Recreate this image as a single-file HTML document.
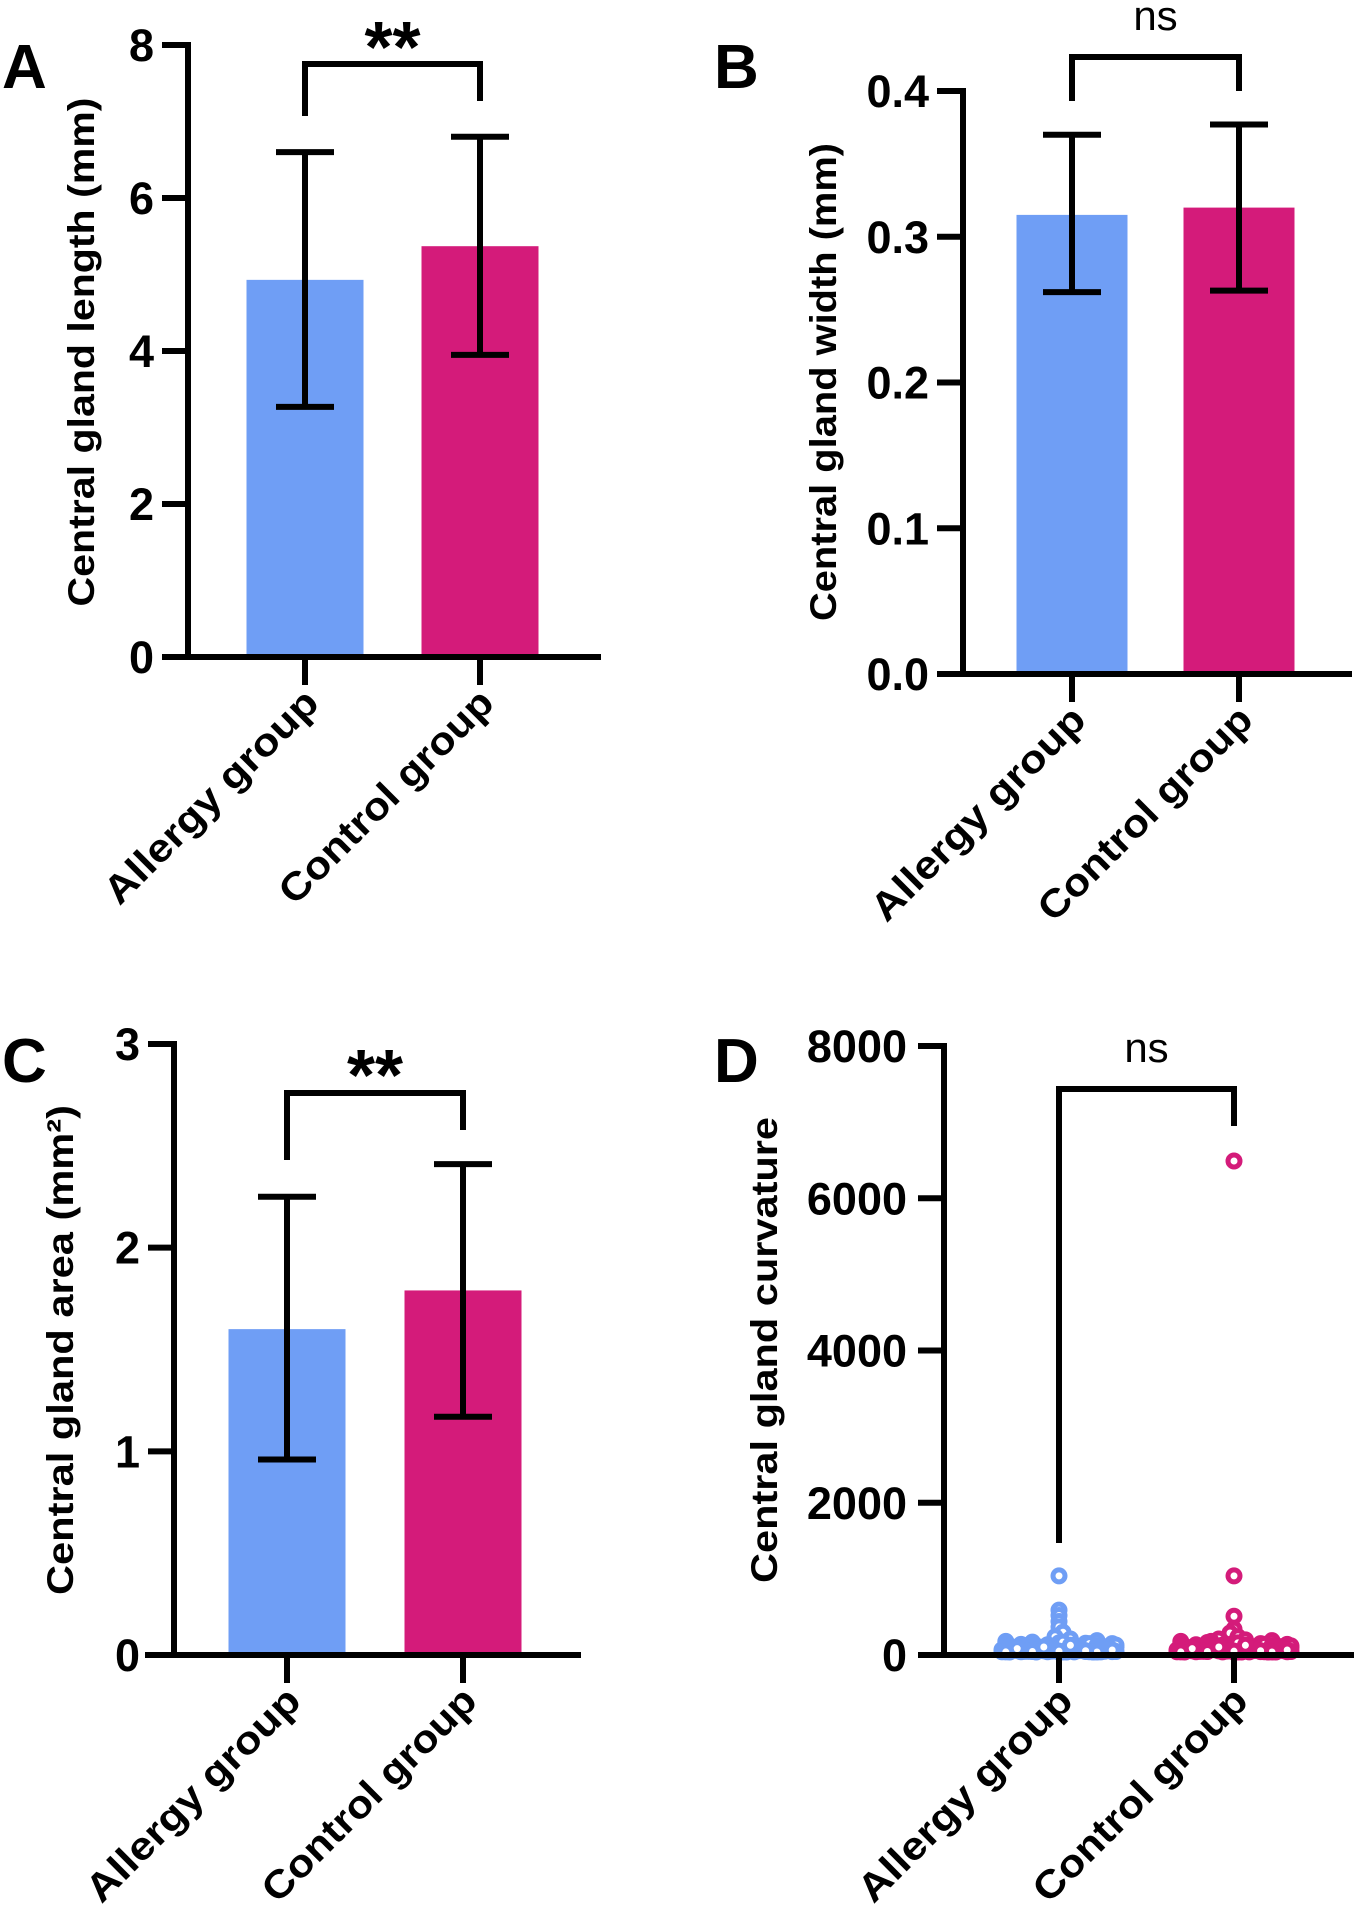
<!DOCTYPE html>
<html><head><meta charset="utf-8"><style>
html,body{margin:0;padding:0;background:#fff;}
svg{display:block;}
text{font-family:"Liberation Sans",Arial,sans-serif;}
</style></head><body>
<svg id="fig" width="1355" height="1915" viewBox="0 0 1355 1915" xmlns="http://www.w3.org/2000/svg"></svg>
<script>
const categories = ["Allergy group", "Control group"];
const barColors = ["#6f9ef5", "#d41b7a"];
// Panel A
const aMeans = [4.93, 5.37];
const aLow = [3.27, 3.95];
const aHigh = [6.6, 6.8];
const aTicks = ["0", "2", "4", "6", "8"];
// Panel B
const bMeans = [0.315, 0.32];
const bLow = [0.262, 0.263];
const bHigh = [0.37, 0.377];
const bTicks = ["0.0", "0.1", "0.2", "0.3", "0.4"];
// Panel C
const cMeans = [1.6, 1.79];
const cLow = [0.96, 1.17];
const cHigh = [2.25, 2.41];
const cTicks = ["0", "1", "2", "3"];
// Panel D
const dTicks = ["0", "2000", "4000", "6000", "8000"];
const dAllergy = [1000, 550, 480, 400, 330, 260, 200, 170, 150, 140, 130, 120, 115, 110, 100, 95, 90, 85, 80, 75, 70, 65, 60, 55, 50, 45, 42, 40, 38, 35, 32, 30, 28, 25, 22, 20, 18, 16, 15, 12, 10, 9, 8, 6, 5, 4, 3, 2, 1, 0, 0, 130, 110, 90, 70, 50, 30, 10, 60, 40, 20, 0, 5, 15, 25, 35, 45, 55, 65, 75, 85, 95, 105, 0, 10, 20, 30, 40, 50, 60, 70, 80, 0, 3, 6, 9, 12, 18, 24, 36, 48, 0, 2, 4, 8, 14, 22, 33, 44, 66, 88, 0, 1, 7, 11, 17, 27];
const dControl = [6450, 1000, 470, 300, 250, 200, 170, 160, 150, 140, 125, 120, 110, 100, 95, 90, 85, 80, 75, 70, 65, 60, 55, 50, 45, 42, 40, 38, 35, 32, 30, 28, 25, 22, 20, 18, 16, 15, 12, 10, 9, 8, 6, 5, 4, 3, 2, 1, 0, 0, 140, 120, 100, 80, 60, 40, 20, 70, 50, 30, 10, 0, 5, 15, 25, 35, 45, 55, 65, 75, 85, 95, 105, 0, 10, 20, 30, 40, 50, 60, 70, 80, 0, 3, 6, 9, 12, 18, 24, 36, 48, 0, 2, 4, 8, 14, 22, 33, 44, 66, 88, 0, 1, 7, 11, 17, 27];

const NS = "http://www.w3.org/2000/svg";
const svg = document.getElementById("fig");
function mk(tag, attrs, parent) {
  const e = document.createElementNS(NS, tag);
  for (const k in attrs) e.setAttribute(k, attrs[k]);
  (parent || svg).appendChild(e);
  return e;
}
function line(g, x1, y1, x2, y2, name) {
  const l = mk("line", {x1, y1, x2, y2, stroke: "#000", "stroke-width": 6, "stroke-linecap": "butt"}, g);
  
  
  return l;
}
function txt(g, x, y, s, attrs, name) {
  const t = mk("text", Object.assign({x, y}, attrs), g);
  t.textContent = s;
  
  
  return t;
}

function axes(p, g, ticks, tickVals, yScale) {
  line(g, p.ax, p.yTop - 3, p.ax, p.y0 + 3, "y-axis-line");
  line(g, p.xl, p.y0, p.xr, p.y0, "x-axis-line");
  ticks.forEach((lab, i) => {
    const y = yScale(tickVals[i]);
    line(g, p.ax - 26, y, p.ax, y, "y-tick");
    txt(g, p.ax - p.labGap, y + 16, lab, {"text-anchor": "end", "font-size": 45, "font-weight": "bold"}, "y-tick-label");
  });
  p.cx.forEach((cx, i) => {
    line(g, cx, p.y0, cx, p.y0 + 28, "x-tick");
    txt(g, 0, 0, categories[i], {"text-anchor": "end", "font-size": 39, "font-weight": "bold",
      transform: `translate(${cx + 16},${p.y0 + 48}) rotate(-45)`, textLength: 285, lengthAdjust: "spacingAndGlyphs"}, "x-category-label");
  });
  txt(g, 0, 0, p.title, {"text-anchor": "middle", "font-size": 37, "font-weight": "bold",
    transform: `translate(${p.titleX},${p.titleY}) rotate(-90)`, textLength: p.titleLen, lengthAdjust: "spacingAndGlyphs"}, "y-axis-title");
  txt(g, p.letterX, p.letterY, p.letter, {"font-size": 62, "font-weight": "bold"}, "panel-letter");
}
function bracket(g, p) {
  const b = p.br;
  const path = mk("path", {d: `M${p.cx[0]},${b.ly} V${b.y} H${p.cx[1]} V${b.ry}`, fill: "none", stroke: "#000", "stroke-width": 6}, g);
  
  
  const mid = (p.cx[0] + p.cx[1]) / 2;
  if (b.label === "**") txt(g, mid, b.ty, "**", {"text-anchor": "middle", "font-size": 72, "font-weight": "bold"}, "significance-label");
  else txt(g, mid, b.ty, "ns", {"text-anchor": "middle", "font-size": 42}, "significance-label");
}
function barPanel(p, means, low, high, ticks, max) {
  const g = mk("g", {});
  
  
  const yScale = v => p.y0 - (v / max) * (p.y0 - p.yTop);
  const tickVals = ticks.map(Number);
  means.forEach((m, i) => {
    const r = mk("rect", {x: p.cx[i] - p.bw / 2, y: yScale(m), width: p.bw, height: p.y0 - yScale(m), fill: barColors[i]}, g);
    
    
  });
  means.forEach((m, i) => {
    const cx = p.cx[i];
    line(g, cx, yScale(low[i]), cx, yScale(high[i]), "error-bar");
    line(g, cx - 29, yScale(low[i]), cx + 29, yScale(low[i]), "error-cap-low");
    line(g, cx - 29, yScale(high[i]), cx + 29, yScale(high[i]), "error-cap-high");
  });
  axes(p, g, ticks, tickVals, yScale);
  bracket(g, p);
}

barPanel({name: "panel-a", ax: 188, yTop: 45, y0: 657, xl: 163, xr: 601, cx: [305, 480], bw: 117, labGap: 34,
  title: "Central gland length (mm)", titleX: 94, titleY: 352, titleLen: 509, letter: "A", letterX: 2, letterY: 88,
  br: {y: 64, ly: 116, ry: 101, label: "**", ty: 72}}, aMeans, aLow, aHigh, aTicks, 8);

barPanel({name: "panel-b", ax: 963, yTop: 91, y0: 674, xl: 937, xr: 1352, cx: [1072, 1239], bw: 111, labGap: 34,
  title: "Central gland width (mm)", titleX: 836, titleY: 382, titleLen: 478, letter: "B", letterX: 714, letterY: 88,
  br: {y: 57, ly: 101, ry: 91, label: "ns", ty: 30}}, bMeans, bLow, bHigh, bTicks, 0.4);

barPanel({name: "panel-c", ax: 174, yTop: 1044, y0: 1655, xl: 145, xr: 581, cx: [287, 463], bw: 117, labGap: 34,
  title: "Central gland area (mm\u00B2)", titleX: 73, titleY: 1350, titleLen: 490, letter: "C", letterX: 2, letterY: 1082,
  br: {y: 1093, ly: 1160, ry: 1130, label: "**", ty: 1100}}, cMeans, cLow, cHigh, cTicks, 3);

// Panel D - scatter
(function () {
  const p = {ax: 944, yTop: 1046, y0: 1655, xl: 918, xr: 1354, cx: [1059, 1234], labGap: 37,
    title: "Central gland curvature", titleX: 777, titleY: 1350, titleLen: 466, letter: "D", letterX: 714, letterY: 1082,
    br: {y: 1089, ly: 1543, ry: 1126, label: "ns", ty: 1062}};
  const g = mk("g", {});
  
  
  const max = 8000;
  const yScale = v => p.y0 - (v / max) * (p.y0 - p.yTop);
  const tickVals = dTicks.map(Number);
  [dAllergy, dControl].forEach((series, s) => {
    series.forEach((v, i) => {
      let off = 0;
      if (v < 200) off = (((i * 7) % 31) - 15) * 3.8;
      else if (v < 300) off = (i % 2 ? 4 : -4);
      const c = mk("circle", {cx: p.cx[s] + off, cy: yScale(v) - 3, r: 6, fill: "#fff", stroke: barColors[s], "stroke-width": 5}, g);
      
      
    });
  });
  axes(p, g, dTicks, tickVals, yScale);
  bracket(g, p);
})();
</script>
</body></html>
